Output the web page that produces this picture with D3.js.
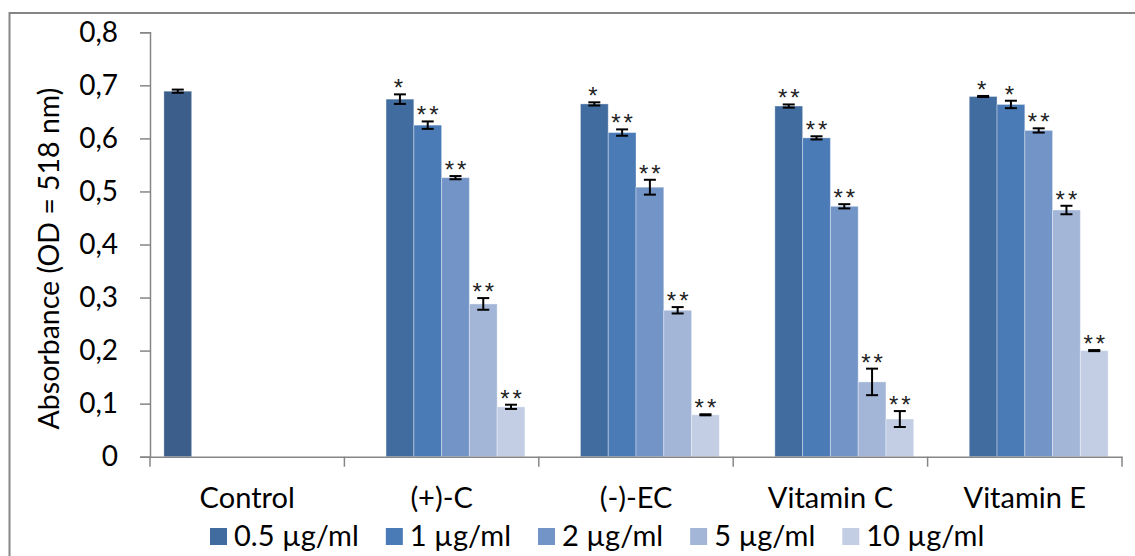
<!DOCTYPE html>
<html><head><meta charset="utf-8">
<script src="https://cdn.jsdelivr.net/npm/d3@7"></script>
<style>body{margin:0;background:#fff}svg{display:block}text{font-family:Lato,"Open Sans",sans-serif;fill:#000}</style>
</head><body><svg id="c" width="1135" height="556"></svg>
<script>
const categories = ["Control", "(+)-C", "(-)-EC", "Vitamin C", "Vitamin E"];
const seriesLabels = ["0.5 µg/ml", "1 µg/ml", "2 µg/ml", "5 µg/ml", "10 µg/ml"];
const seriesColors = ["#416C9F", "#4A7BB7", "#7394C6", "#A3B6D8", "#C3CEE4"];
const controlColor = "#3B5E8B";
const controlValue = 0.689;
const controlError = 0.003;
const valuesPlusC   = [0.674, 0.625, 0.526, 0.288, 0.094];
const valuesMinusEC = [0.665, 0.611, 0.508, 0.276, 0.079];
const valuesVitC    = [0.661, 0.601, 0.472, 0.141, 0.071];
const valuesVitE    = [0.679, 0.664, 0.615, 0.465, 0.200];
const errorsPlusC   = [0.009, 0.007, 0.003, 0.011, 0.004];
const errorsMinusEC = [0.003, 0.006, 0.014, 0.006, 0.001];
const errorsVitC    = [0.003, 0.003, 0.004, 0.025, 0.015];
const errorsVitE    = [0.001, 0.007, 0.004, 0.008, 0.001];
const signifPlusC   = ["*", "**", "**", "**", "**"];
const signifMinusEC = ["*", "**", "**", "**", "**"];
const signifVitC    = ["**", "**", "**", "**", "**"];
const signifVitE    = ["*", "*", "**", "**", "**"];
const yTicks = [0, 0.1, 0.2, 0.3, 0.4, 0.5, 0.6, 0.7, 0.8];
const yTitle = "Absorbance (OD = 518 nm)";

const treatValues = [valuesPlusC, valuesMinusEC, valuesVitC, valuesVitE];
const treatErrors = [errorsPlusC, errorsMinusEC, errorsVitC, errorsVitE];
const treatSignif = [signifPlusC, signifMinusEC, signifVitC, signifVitE];

// bar records: slot 0 = control series, slots 1..5 = concentrations
const bars = [{cat: categories[0], slot: 0, v: controlValue, e: controlError, s: "", color: controlColor}];
treatValues.forEach((arr, ti) => arr.forEach((v, si) => bars.push({
  cat: categories[ti + 1], slot: si + 1, v, e: treatErrors[ti][si], s: treatSignif[ti][si], color: seriesColors[si]
})));

const svg = d3.select("#c");
const axisColor = "#868686";

svg.append("rect").attr("x", 9.5).attr("y", 13).attr("width", 1140).attr("height", 560)
  .attr("fill", "none").attr("stroke", axisColor).attr("stroke-width", 2);

const x0 = d3.scaleBand().domain(categories).range([150, 1122]).padding(0);
const bw = x0.bandwidth();
const x1 = d3.scaleBand().domain(d3.range(6)).range([bw / 14, bw - bw / 14]).padding(0);
const y = d3.scaleLinear().domain([0, 0.8]).range([456.7, 32.3]);

// y axis
const yAxis = svg.append("g").attr("transform", "translate(150,0)")
  .call(d3.axisLeft(y).tickValues(yTicks).tickSize(10).tickPadding(22)
    .tickFormat(d => d === 0 ? "0" : d3.format(".1f")(d).replace(".", ",")));
yAxis.select(".domain").attr("stroke", axisColor).attr("stroke-width", 1.5);
yAxis.selectAll(".tick line").attr("stroke", axisColor).attr("stroke-width", 1.5);
yAxis.selectAll(".tick text").attr("font-size", 28).attr("font-family", "Lato").attr("fill", "#000");

// bars
svg.append("g").selectAll("rect").data(bars).join("rect")
  .attr("x", d => x0(d.cat) + x1(d.slot))
  .attr("y", d => y(d.v))
  .attr("width", x1.bandwidth())
  .attr("height", d => y(0) - y(d.v))
  .attr("fill", d => d.color)
  .attr("stroke", "rgba(255,255,255,0.35)").attr("stroke-width", 1);

// x axis
const xAxis = svg.append("g").attr("transform", `translate(0,${y(0)})`)
  .call(d3.axisBottom(x0).tickSize(0).tickPadding(31));
xAxis.select(".domain").attr("stroke", axisColor).attr("stroke-width", 1.5);
xAxis.selectAll(".tick text").attr("font-size", 29).attr("font-family", "Lato").attr("fill", "#000");
const bounds = categories.map(c => x0(c)).concat([x0.range()[1]]);
xAxis.selectAll(".bound").data(bounds).join("line").attr("class", "bound")
  .attr("x1", d => d).attr("x2", d => d).attr("y1", 0).attr("y2", 10)
  .attr("stroke", axisColor).attr("stroke-width", 1.5);

// error bars
const eg = svg.append("g").attr("stroke", "#000").attr("stroke-width", 2);
bars.forEach(d => {
  const cx = x0(d.cat) + x1(d.slot) + x1.bandwidth() / 2;
  const top = y(d.v + d.e), bot = y(d.v - d.e);
  eg.append("line").attr("x1", cx).attr("x2", cx).attr("y1", top).attr("y2", bot);
  eg.append("line").attr("x1", cx - 6).attr("x2", cx + 6).attr("y1", top).attr("y2", top);
  eg.append("line").attr("x1", cx - 6).attr("x2", cx + 6).attr("y1", bot).attr("y2", bot);
});

// significance stars
svg.append("g").selectAll("text").data(bars.filter(d => d.s)).join("text")
  .attr("x", d => x0(d.cat) + x1(d.slot) + x1.bandwidth() / 2 + (d.s.length > 1 ? 1.5 : 0))
  .attr("y", d => y(d.v + d.e) + 2)
  .attr("text-anchor", "middle").attr("font-size", 24)
  .attr("letter-spacing", 3)
  .style("font-family", "'Liberation Sans', Arial, sans-serif")
  .style("fill", "#222")
  .text(d => d.s);

// y title
svg.append("text").attr("transform", "translate(59,258.5) rotate(-90)")
  .attr("text-anchor", "middle").attr("font-size", 28.5).text(yTitle);

// legend
const lg = svg.append("g");
let lx = 210;
seriesLabels.forEach((lab, i) => {
  lg.append("rect").attr("x", lx).attr("y", 528).attr("width", 17).attr("height", 17).attr("fill", seriesColors[i]);
  const t = lg.append("text").attr("x", lx + 24).attr("y", 546).attr("font-size", 29).text(lab);
  lx += 24 + t.node().getComputedTextLength() + 27;
});
</script></body></html>
